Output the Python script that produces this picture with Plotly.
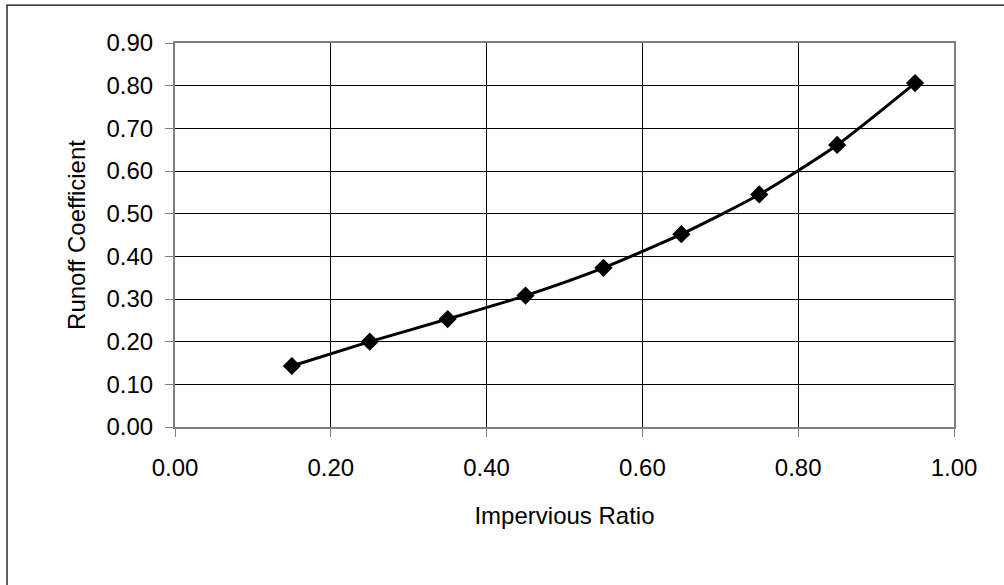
import plotly.graph_objects as go

impervious_ratio = [0.15, 0.25, 0.35, 0.45, 0.55, 0.65, 0.75, 0.85, 0.95]
runoff_coefficient = [0.143, 0.200, 0.253, 0.308, 0.373, 0.452, 0.545, 0.661, 0.806]
x_ticks = [0.0, 0.2, 0.4, 0.6, 0.8, 1.0]
y_ticks = [0.0, 0.1, 0.2, 0.3, 0.4, 0.5, 0.6, 0.7, 0.8, 0.9]

W, H = 1004, 585
L, R, T, B = 175, 50, 43, 158
pw, ph = W - L - R, H - T - B

font = "Liberation Sans, Arial, sans-serif"

fig = go.Figure()
fig.add_trace(go.Scatter(
    x=impervious_ratio, y=runoff_coefficient,
    mode="lines+markers",
    line=dict(color="black", width=3, shape="spline", smoothing=0.6),
    marker=dict(symbol="diamond", size=14, color="black"),
    showlegend=False,
))

def px2paper_x(p):
    return (p - L) / pw

def px2paper_y(p):
    return (H - B - p) / ph

fig.update_layout(
    width=W, height=H,
    margin=dict(l=L, r=R, t=T, b=B),
    paper_bgcolor="white", plot_bgcolor="white",
    font=dict(family=font, size=24, color="black"),
    xaxis=dict(
        range=[0, 1], tickvals=x_ticks, ticktext=[f"{v:.2f}" for v in x_ticks],
        showgrid=True, gridcolor="black", gridwidth=1,
        showline=True, linecolor="#808080", linewidth=2, mirror=True,
        ticks="outside", ticklen=8, tickcolor="#808080", tickwidth=1,
        ticklabelstandoff=10,
        zeroline=False,
        title=dict(text="Impervious Ratio", standoff=27, font=dict(size=24)),
        tickfont=dict(size=24),
    ),
    yaxis=dict(
        range=[0, 0.9], tickvals=y_ticks, ticktext=[f"{v:.2f}" for v in y_ticks],
        showgrid=True, gridcolor="black", gridwidth=1,
        showline=True, linecolor="#808080", linewidth=2, mirror=True,
        ticks="outside", ticklen=8, tickcolor="#808080", tickwidth=1,
        ticklabelstandoff=7,
        zeroline=False,
        title=dict(text="Runoff Coefficient", standoff=14, font=dict(size=24)),
        tickfont=dict(size=24),
    ),
    shapes=[dict(
        type="rect", xref="paper", yref="paper",
        x0=px2paper_x(7), x1=px2paper_x(1020),
        y0=px2paper_y(600), y1=px2paper_y(5),
        line=dict(color="black", width=1.25), fillcolor="rgba(0,0,0,0)",
        layer="below",
    )],
)

fig.write_html("out.html", config={"displayModeBar": False},
               post_script="document.body.style.margin='0px';")
